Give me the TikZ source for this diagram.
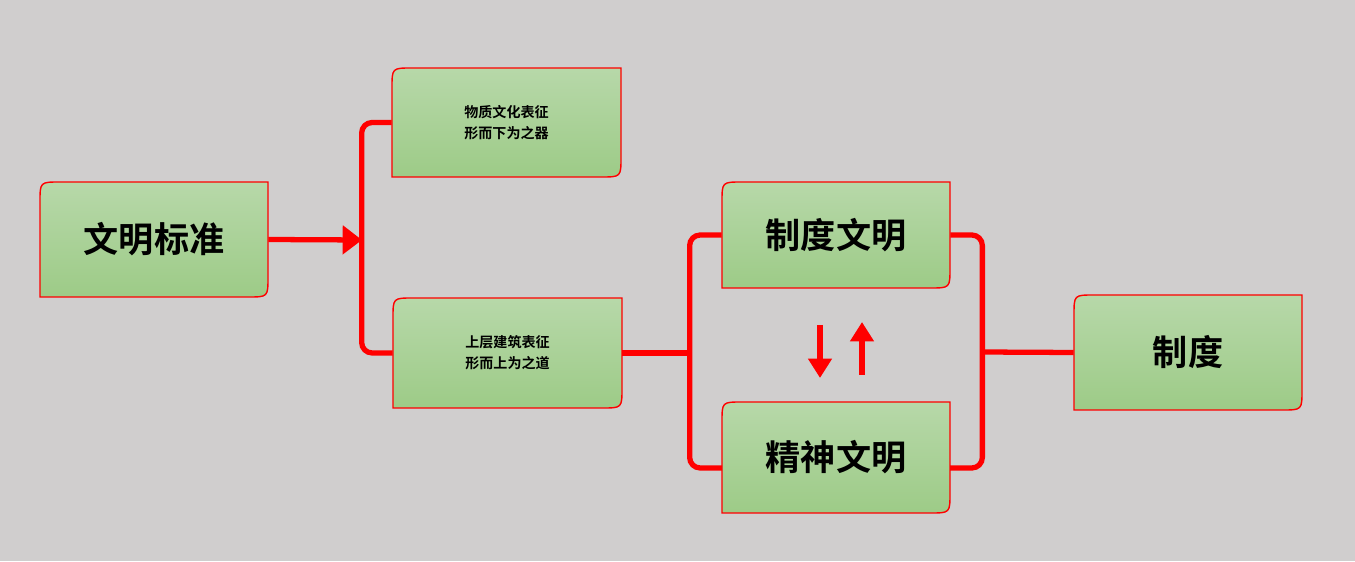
\documentclass[tikz,border=0pt]{standalone}
\usepackage{fontspec}
\newfontfamily\cjk{Noto Sans CJK SC}[BoldFont={Noto Sans CJK SC Bold}]
\usetikzlibrary{arrows.meta}
\definecolor{bg}{HTML}{D0CECE}
\definecolor{gtop}{HTML}{B7D8A9}
\definecolor{gbot}{HTML}{9DCB87}
\tikzset{conn/.style={draw=red,line width=3pt},
 lbl/.style={font=\cjk\bfseries,align=center,inner sep=0pt}}
\newcommand\gbox[7]{%
 \pgfmathsetmacro\ya{561-#3}\pgfmathsetmacro\yb{561-#5}%
 \pgfmathsetmacro\ra{\ya-20}\pgfmathsetmacro\rb{\yb+20}%
 \pgfmathsetmacro\xa{#2+20}\pgfmathsetmacro\xb{#4-20}%
 \shade[top color=gtop,bottom color=gbot,draw=red,line width=0.8pt]
  (#2,\ra) .. controls (#2,\ya) .. (\xa,\ya) -- (#4,\ya) -- (#4,\rb)
  .. controls (#4,\yb) .. (\xb,\yb) -- (#2,\yb) -- cycle;
 \pgfmathsetmacro\bwd{(#4-#2)*0.02}\pgfmathsetmacro\bht{(#5-#3)*0.02}%
 \node[lbl,font=\cjk\bfseries#7,minimum width=\bwd cm,minimum height=\bht cm] (#1)
  at ({(#2+#4)/2},{561-(#3+#5)/2}) {#6};}
\begin{document}
\begin{tikzpicture}[x=0.02cm,y=0.02cm]
\fill[bg] (0,0) rectangle (1355,561);
\gbox{b1}{40}{182}{268}{297}{文明标准}{\fontsize{20}{24}\selectfont}
\gbox{b2}{392}{68}{621}{177}{物质文化表征\\形而下为之器}{\fontsize{8}{12}\selectfont}
\gbox{b3}{393}{298}{622}{408}{上层建筑表征\\形而上为之道}{\fontsize{8}{12}\selectfont}
\gbox{b4}{722}{182}{950}{288}{制度文明}{\fontsize{20}{24}\selectfont}
\gbox{b5}{722}{402}{950}{513}{精神文明}{\fontsize{20}{24}\selectfont}
\gbox{b6}{1074}{295}{1302}{410}{制度}{\fontsize{20}{24}\selectfont}
\coordinate (j1) at (362,321);
\coordinate (l5) at (722,93);
\coordinate (r5) at (950,93);
\coordinate (j3) at (982,209);
\draw[conn,-{Triangle[width=16pt,length=11pt]}] (b1.east) -- (j1);
\draw[conn,rounded corners=6pt] (b2.west) -- ++(-30,0) |- (b3.west);
\draw[conn] (b3.east) -- (690,208);
\draw[conn,rounded corners=6pt] (b4.west) -- ++(-32,0) |- (l5);
\draw[conn,rounded corners=6pt] (b4.east) -- ++(32,0) |- (r5);
\draw[conn] (b6.west) -- (j3);
\coordinate (d1) at (820,236); \coordinate (d2) at (820,183);
\coordinate (u1) at (862,186); \coordinate (u2) at (862,239);
\draw[conn,-{Triangle[width=13pt,length=11pt]}] (d1) -- (d2);
\draw[conn,-{Triangle[width=13pt,length=11pt]}] (u1) -- (u2);
\end{tikzpicture}
\end{document}
